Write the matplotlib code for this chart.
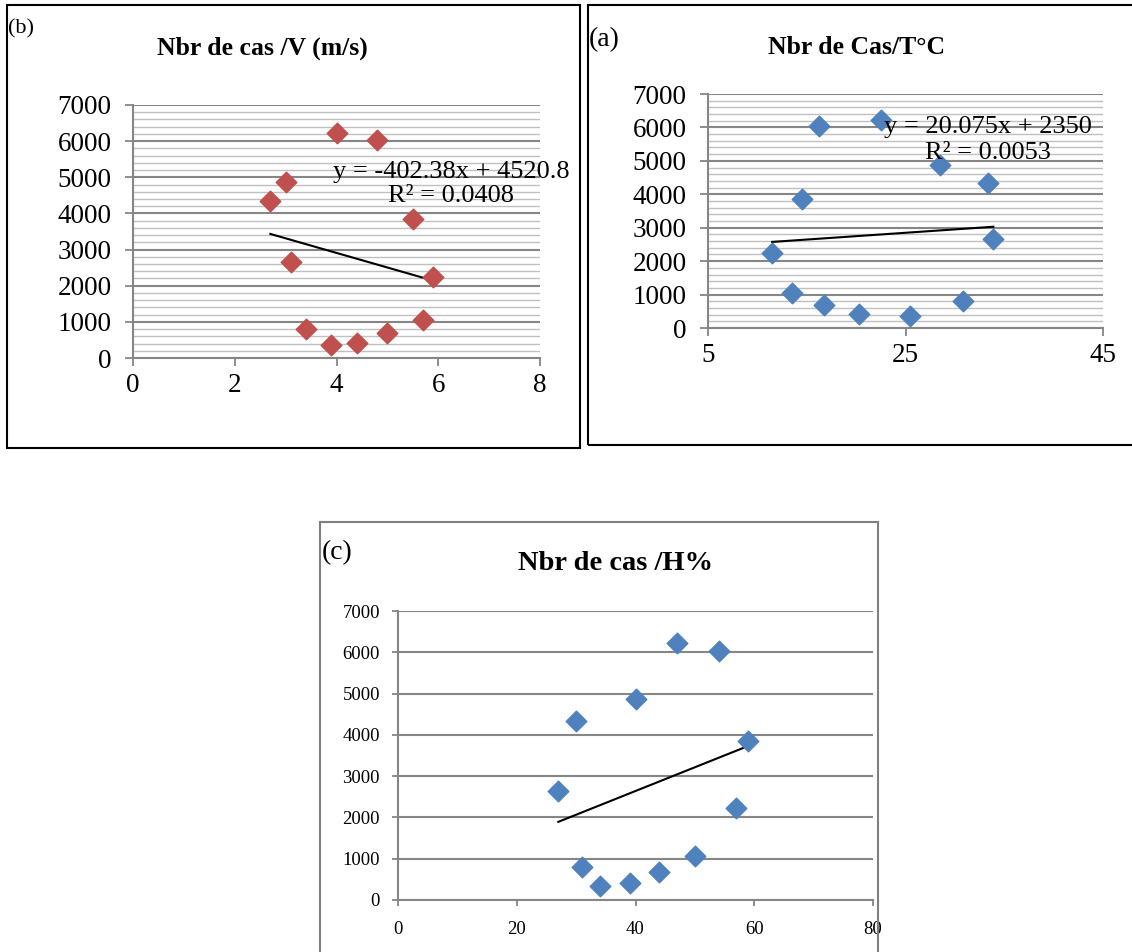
import numpy as np
import matplotlib.pyplot as plt
from matplotlib.patches import Rectangle
from matplotlib.ticker import MultipleLocator

plt.rcParams['font.family'] = ['Liberation Serif', 'DejaVu Serif']

# Number of cases and the three weather variables (one value per month)
cases = [6230, 6030, 4880, 4340, 3850, 2650, 2230, 800, 350, 420, 680, 1060]
wind = [4.0, 4.8, 3.0, 2.7, 5.5, 3.1, 5.9, 3.4, 3.9, 4.4, 5.0, 5.7]
temp = [22.5, 16.2, 28.5, 33.4, 14.5, 33.9, 11.5, 30.8, 25.5, 20.3, 16.7, 13.5]
humid = [47, 54, 40, 30, 59, 27, 57, 31, 34, 39, 44, 50]

eq_wind = "y = -402.38x + 4520.8\nR² = 0.0408"
eq_temp = "y = 20.075x + 2350\nR² = 0.0053"

W, H = 1132, 952
fig = plt.figure(figsize=(W / 100, H / 100), dpi=100)
narrow = ['Liberation Sans Narrow', 'Liberation Serif']


def px_axes(x0, x1, y0, y1):
    return fig.add_axes([x0 / W, 1 - y1 / H, (x1 - x0) / W, (y1 - y0) / H])


def frame(x0, x1, y0, y1, color='black'):
    fig.patches.append(Rectangle((x0 / W, 1 - y1 / H), (x1 - x0) / W, (y1 - y0) / H,
                                 transform=fig.transFigure, fill=False,
                                 edgecolor=color, lw=1.5))


def style(ax, minor=True, fs=19.5, tl=5.5, xpad=5, ypad=10):
    for s in ['top', 'right']:
        ax.spines[s].set_visible(False)
    for s in ['left', 'bottom']:
        ax.spines[s].set_color('#868686')
        ax.spines[s].set_linewidth(1.5)
    ax.set_ylim(0, 7000)
    ax.yaxis.set_major_locator(MultipleLocator(1000))
    ax.tick_params(axis='both', which='major', direction='out', length=tl,
                   color='#868686', width=1.3, labelsize=fs)
    ax.tick_params(axis='x', pad=xpad)
    ax.tick_params(axis='y', pad=ypad)
    ax.tick_params(axis='both', which='minor', length=0)
    ax.grid(True, axis='y', which='major', color='#868686', lw=1.5)
    if minor:
        ax.yaxis.set_minor_locator(MultipleLocator(200))
        ax.grid(True, axis='y', which='minor', color='#c0c0c0', lw=1.0)
    ax.set_axisbelow(True)


def trend(ax, x, y):
    x = np.array(x, dtype=float)
    y = np.array(y, dtype=float)
    m, b = np.polyfit(x, y, 1)
    xs = np.array([x.min(), x.max()])
    ax.plot(xs, m * xs + b, color='black', lw=1.5, zorder=2)


# (b) cases vs wind speed
frame(7, 580, 5, 448)
ax_b = px_axes(133, 540, 105, 358)
style(ax_b)
ax_b.set_xlim(0, 8)
ax_b.xaxis.set_major_locator(MultipleLocator(2))
ax_b.scatter(wind, cases, marker='D', s=110, color='#c0504d', zorder=3)
trend(ax_b, wind, cases)
fig.text(157 / W, 1 - 48 / H, 'Nbr de cas /V (m/s)', ha='left', va='center',
         fontsize=18.5, fontweight='bold')
fig.text(451 / W, 1 - 184 / H, eq_wind, ha='center', va='center', fontsize=19,
         multialignment='center', linespacing=1.15)
fig.text(8 / W, 1 - 29 / H, '(b)', ha='left', va='center', fontsize=16,
         family=narrow)

# (a) cases vs temperature
frame(588, 1140, 5, 445)
ax_a = px_axes(708, 1103, 94, 328)
style(ax_a)
ax_a.set_xlim(5, 45)
ax_a.set_xticks([5, 25, 45])
ax_a.scatter(temp, cases, marker='D', s=110, color='#4f81bd', zorder=3)
trend(ax_a, temp, cases)
fig.text(768 / W, 1 - 47 / H, 'Nbr de Cas/T°C', ha='left', va='center',
         fontsize=18.5, fontweight='bold')
fig.text(988 / W, 1 - 140 / H, eq_temp, ha='center', va='center', fontsize=19,
         multialignment='center', linespacing=1.2)
fig.text(589 / W, 1 - 40 / H, '(a)', ha='left', va='center', fontsize=20,
         family=narrow)

# (c) cases vs humidity
frame(320, 878, 522, 960, color='#7f7f7f')
ax_c = px_axes(398, 873, 611, 900)
style(ax_c, minor=False, fs=13.5, tl=4, xpad=11, ypad=9)
ax_c.set_xlim(0, 80)
ax_c.xaxis.set_major_locator(MultipleLocator(20))
ax_c.scatter(humid, cases, marker='D', s=110, color='#4f81bd', zorder=3)
trend(ax_c, humid, cases)
fig.text(518 / W, 1 - 563 / H, 'Nbr de cas /H%', ha='left', va='center',
         fontsize=20.5, fontweight='bold')
fig.text(322 / W, 1 - 553 / H, '(c)', ha='left', va='center', fontsize=20,
         family=narrow)

fig.savefig('out.png', dpi=100)
